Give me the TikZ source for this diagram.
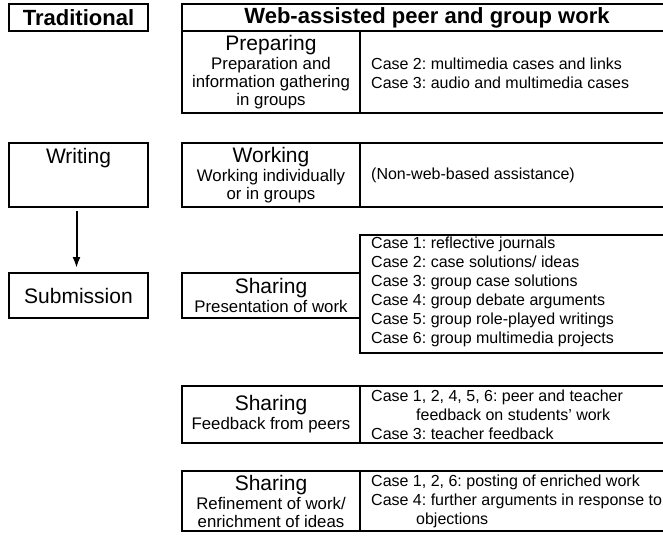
\documentclass[tikz,border=0pt]{standalone}
\usepackage{fontspec}
\setmainfont{Liberation Sans}
\usetikzlibrary{arrows.meta}
\newcommand{\phasetitle}{\fontsize{21}{24}\selectfont}
\frenchspacing
\begin{document}
\begin{tikzpicture}[x=1pt,y=-1pt,
  cell/.style={draw, line width=1.1pt, inner sep=0pt, outer sep=0pt, anchor=north west},
  lcell/.style={cell, minimum width=178pt},
  rcell/.style={cell, minimum width=312pt},
  tcell/.style={cell, minimum width=139pt},
  headtext/.style={font=\bfseries\fontsize{22}{26}\selectfont},
  phasetext/.style={align=center, inner sep=0pt, font=\fontsize{16.8}{18}\selectfont},
  casetext/.style={anchor=west, align=left, inner sep=0pt, font=\fontsize{16}{19}\selectfont},
  flow/.style={line width=2pt, -{Latex[length=11pt,width=8pt]}}]
\useasboundingbox (0,0) rectangle (663,535);
\clip (0,0) rectangle (663,535);

% column headings
\node[tcell, minimum height=27pt, headtext] (trad) at (9,4) {Traditional};
\node[cell, minimum width=490pt, minimum height=27pt, headtext] (web) at (182,4) {Web-assisted peer and group work};

% preparing
\node[lcell, minimum height=82pt] (prepL) at (182,31) {};
\node[rcell, minimum height=82pt] (prepR) at (360,31) {};
\node[phasetext] (prepLt) at (prepL.center) {{\phasetitle Preparing}\\[1pt]Preparation and\\information gathering\\in groups};
\node[casetext] (prepRt) at ([xshift=11pt, yshift=-1pt]prepR.west) {Case 2: multimedia cases and links\\Case 3: audio and multimedia cases};

% writing / working
\node[tcell, minimum height=64pt] (writing) at (9,143) {};
\node[font=\phasetitle, inner sep=0pt] (writingt) at ([yshift=-15pt]writing.north) {Writing};
\node[lcell, minimum height=64pt] (workL) at (182,143) {};
\node[rcell, minimum height=64pt] (workR) at (360,143) {};
\node[phasetext] (workLt) at (workL.center) {{\phasetitle Working}\\[1pt]Working individually\\or in groups};
\node[casetext] (workRt) at ([xshift=11pt]workR.west) {(Non-web-based assistance)};

% submission / presentation
\node[tcell, minimum height=45pt, font=\phasetitle] (submission) at (9,273) {Submission};
\node[lcell, minimum height=45pt] (presL) at (182,273) {};
\node[rcell, minimum height=118pt] (presR) at (360,235) {};
\node[phasetext] (presLt) at (presL.center) {{\phasetitle Sharing}\\[1pt]Presentation of work};
\node[casetext] (presRt) at ([xshift=11pt, yshift=2pt]presR.west) {Case 1: reflective journals\\Case 2: case solutions/ ideas\\Case 3: group case solutions\\Case 4: group debate arguments\\Case 5: group role-played writings\\Case 6: group multimedia projects};

% feedback
\node[lcell, minimum height=57pt] (feedL) at (182,386) {};
\node[rcell, minimum height=57pt] (feedR) at (360,386) {};
\node[phasetext] (feedLt) at (feedL.center) {{\phasetitle Sharing}\\[1pt]Feedback from peers};
\node[casetext] (feedRt) at ([xshift=11pt]feedR.west) {Case 1, 2, 4, 5, 6: peer and teacher\\\hspace*{45pt}feedback on students’ work\\Case 3: teacher feedback};

% refinement
\node[lcell, minimum height=60pt] (refL) at (182,471) {};
\node[rcell, minimum height=60pt] (refR) at (360,471) {};
\node[phasetext] (refLt) at (refL.center) {{\phasetitle Sharing}\\[1pt]Refinement of work/\\enrichment of ideas};
\node[casetext] (refRt) at ([xshift=11pt]refR.west) {Case 1, 2, 6: posting of enriched work\\Case 4: further arguments in response to\\\hspace*{45pt}objections};

% traditional sequence
\draw[flow, shorten <=4pt, shorten >=5pt] ([xshift=-2pt]writing.south) -- ([xshift=-2pt]submission.north);
\end{tikzpicture}
\end{document}
